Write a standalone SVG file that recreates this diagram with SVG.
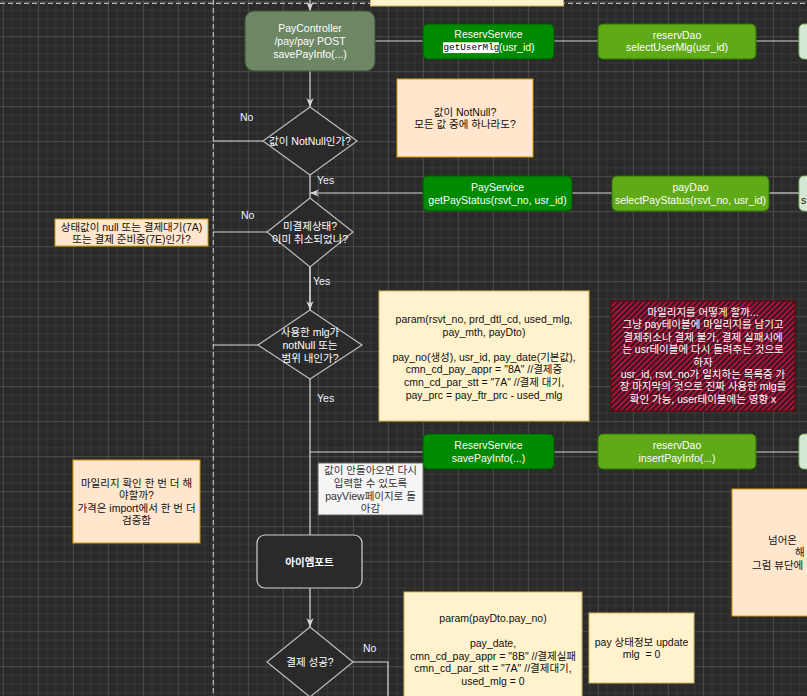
<svg xmlns="http://www.w3.org/2000/svg" width="807" height="696" viewBox="0 0 807 696">
<style>
text{font-family:"Liberation Sans","Noto Sans CJK KR",sans-serif;font-size:10.5px;text-anchor:middle;dominant-baseline:central}
.w{fill:#ffffff}
.d{fill:#111111}
.g{fill:#333333}
.lbl{fill:#f0f4ff;text-anchor:start}
.conn{stroke:#d6d6d6;stroke-width:1.2;fill:none}
.dash{stroke:#b8b8b8;stroke-width:1.2;stroke-dasharray:5 3;fill:none}
.svc{fill:#008a00;stroke:#005700}
.dao{fill:#60a917;stroke:#2d7600}
.lg{fill:#d5e8d4;stroke:#82b366}
.dia{fill:#2a2a2a;stroke:#bdbdbd;stroke-width:1.2}
.or{fill:#ffe6cc;stroke:#d79b00}
.ye{fill:#fff2cc;stroke:#d6b656}
</style>
<defs>
<pattern id="grid" x="2.8" y="1.2" width="35" height="35" patternUnits="userSpaceOnUse">
<rect width="35" height="35" fill="#2a2a2a"/>
<path d="M9.25 0V35M18 0V35M26.75 0V35M0 9.25H35M0 18H35M0 26.75H35" stroke="#373737" stroke-width="1"/>
<path d="M0.5 0V35M0 0.5H35" stroke="#4d4d4d" stroke-width="1"/>
</pattern>
<pattern id="hatch" width="4" height="4" patternUnits="userSpaceOnUse" patternTransform="rotate(45)">
<rect width="4" height="4" fill="#2e1a20"/>
<line x1="1" y1="0" x2="1" y2="4" stroke="#b0103a" stroke-width="2"/>
</pattern>
<marker id="arr" viewBox="0 0 10 10" refX="10" refY="5" markerWidth="9" markerHeight="9" markerUnits="userSpaceOnUse" orient="auto">
<path d="M0,1 L10,5 L0,9 L3,5 z" fill="#d6d6d6"/>
</marker>
</defs>
<rect width="807" height="696" fill="url(#grid)"/>
<g id="lanes">
<path class="dash" d="M0 3.3H807"/>
<path class="dash" d="M213.3 0V696"/>
</g>
<g id="topbox"><rect class="ye" x="370.5" y="-20" width="193" height="26"/></g>
<g id="connectors">
<path class="conn" d="M310 0V11" marker-end="url(#arr)"/>
<path class="conn" d="M375 41H423"/>
<path class="conn" d="M554 41H598"/>
<path class="conn" d="M756 41H799"/>
<path class="conn" d="M310 71V107" marker-end="url(#arr)"/>
<path class="conn" d="M263 141H213"/>
<path class="conn" d="M310 175V310" />
<path class="conn" d="M423 193H310" marker-end="url(#arr)"/>
<path class="conn" d="M572 193H612"/>
<path class="conn" d="M769 193H799"/>
<path class="conn" d="M267 232H213"/>
<path class="conn" d="M310 267V310" marker-end="url(#arr)"/>
<path class="conn" d="M258 345H213"/>
<path class="conn" d="M310 379V535"/>
<path class="conn" d="M310 452H423"/>
<path class="conn" d="M554 452H598"/>
<path class="conn" d="M756 452H799"/>
<path class="conn" d="M310 588V627" marker-end="url(#arr)"/>
<path class="conn" d="M353 662H388V696"/>
<text class="lbl" x="240" y="117">No</text>
<text class="lbl" x="317" y="180">Yes</text>
<text class="lbl" x="241" y="215">No</text>
<text class="lbl" x="313" y="281">Yes</text>
<text class="lbl" x="317" y="398">Yes</text>
<text class="lbl" x="363" y="648">No</text>
</g>
<g id="payController">
<rect x="245" y="11" width="130" height="60" rx="9" fill="#6d8764" stroke="#3a5431"/>
<text class="w" x="310" y="28.4">PayController</text>
<text class="w" x="310" y="41">/pay/pay POST</text>
<text class="w" x="310" y="53.6">savePayInfo(...)</text>
</g>
<g id="reservService1">
<rect class="svc" x="423" y="24" width="131" height="35" rx="5"/>
<text class="w" x="488.5" y="33.5">ReservService</text>
<rect x="443" y="42.3" width="56" height="10.8" fill="#ffffff"/>
<text x="443.5" y="47.3" style="font-family:'Liberation Mono',monospace;font-size:9.3px;text-anchor:start;fill:#000">getUserMlg</text>
<text class="w" x="499" y="47" style="text-anchor:start">(usr_id)</text>
</g>
<g id="reservDao1">
<rect class="dao" x="598" y="24" width="158" height="35" rx="5"/>
<text class="w" x="677" y="34.7">reservDao</text>
<text class="w" x="677" y="47.3">selectUserMlg(usr_id)</text>
</g>
<g id="lg1"><rect class="lg" x="799" y="24" width="40" height="35" rx="5"/></g>
<g id="decision1">
<polygon class="dia" points="310,107 357,141 310,175 263,141"/>
<text class="w" x="310" y="141">값이 NotNull인가?</text>
</g>
<g id="note1">
<rect class="or" x="397" y="79" width="136" height="78"/>
<text class="d" x="465" y="111.7">값이 NotNull?</text>
<text class="d" x="465" y="124.3">모든 값 중에 하나라도?</text>
</g>
<g id="payService">
<rect class="svc" x="423" y="176" width="149" height="35" rx="5"/>
<text class="w" x="497.5" y="187">PayService</text>
<text class="w" x="497.5" y="199.6">getPayStatus(rsvt_no, usr_id)</text>
</g>
<g id="payDao">
<rect class="dao" x="612" y="176" width="157" height="35" rx="5"/>
<text class="w" x="690.5" y="187">payDao</text>
<text class="w" x="690.5" y="199.6">selectPayStatus(rsvt_no, usr_id)</text>
</g>
<g id="lg2">
<rect class="lg" x="799" y="176" width="40" height="35" rx="5"/>
<text class="d" x="801" y="199.6" style="text-anchor:start">s</text>
</g>
<g id="decision2">
<polygon class="dia" points="310,198 353,232 310,267 267,232"/>
<text class="w" x="310" y="226">미결제상태?</text>
<text class="w" x="310" y="238.6">이미 취소되었나?</text>
</g>
<g id="label2">
<rect class="or" x="55" y="219" width="153" height="27"/>
<text class="d" x="131.5" y="226.6">상태값이 null 또는 결제대기(7A)</text>
<text class="d" x="131.5" y="239.2">또는 결제 준비중(7E)인가?</text>
</g>
<g id="decision3">
<polygon class="dia" points="310,310 362,345 310,379 258,345"/>
<text class="w" x="310" y="332.4">사용한 mlg가</text>
<text class="w" x="310" y="345">notNull 또는</text>
<text class="w" x="310" y="357.6">범위 내인가?</text>
</g>
<g id="param1">
<rect class="ye" x="379" y="291" width="210" height="130"/>
<text class="d" x="484" y="319">param(rsvt_no, prd_dtl_cd, used_mlg,</text>
<text class="d" x="484" y="331.6">pay_mth, payDto)</text>
<text class="d" x="484" y="356.8">pay_no(생성), usr_id, pay_date(기본값),</text>
<text class="d" x="484" y="369.4">cmn_cd_pay_appr = "8A" //결제중</text>
<text class="d" x="484" y="382">cmn_cd_par_stt = "7A" //결제 대기,</text>
<text class="d" x="484" y="394.6">pay_prc = pay_ftr_prc - used_mlg</text>
</g>
<g id="mileageNote">
<rect x="611" y="301" width="184" height="110" fill="url(#hatch)" stroke="#6f0000"/>
<text class="w" x="703" y="312">마일리지를 어떻게 할까...</text>
<text class="w" x="703" y="324.4">그냥 pay테이블에 마일리지를 남기고</text>
<text class="w" x="703" y="336.8">결제취소나 결제 불가, 결제 실패시에</text>
<text class="w" x="703" y="349.2">는 usr테이블에 다시 돌려주는 것으로</text>
<text class="w" x="703" y="361.6">하자</text>
<text class="w" x="703" y="374">usr_id, rsvt_no가 일치하는 목록중 가</text>
<text class="w" x="703" y="386.4">장 마지막의 것으로 진짜 사용한 mlg를</text>
<text class="w" x="703" y="398.8">확인 가능, user테이블에는 영향 x</text>
</g>
<g id="reservService2">
<rect class="svc" x="423" y="434" width="131" height="35" rx="5"/>
<text class="w" x="488.5" y="445">ReservService</text>
<text class="w" x="488.5" y="457.6">savePayInfo(...)</text>
</g>
<g id="reservDao2">
<rect class="dao" x="598" y="434" width="158" height="35" rx="5"/>
<text class="w" x="677" y="445">reservDao</text>
<text class="w" x="677" y="457.6">insertPayInfo(...)</text>
</g>
<g id="lg3"><rect class="lg" x="799" y="434" width="40" height="35" rx="5"/></g>
<g id="retryNote">
<rect x="318" y="463" width="105" height="52" fill="#f5f5f5" stroke="#666666"/>
<text class="g" x="370.5" y="470.3">값이 안돌아오면 다시</text>
<text class="g" x="370.5" y="482.9">입력할 수 있도록</text>
<text class="g" x="370.5" y="495.5">payView페이지로 돌</text>
<text class="g" x="370.5" y="508.1">아감</text>
</g>
<g id="leftNote">
<rect class="or" x="73" y="460" width="127" height="83"/>
<text class="d" x="136.5" y="482.6">마일리지 확인 한 번 더 해</text>
<text class="d" x="136.5" y="495.2">야할까?</text>
<text class="d" x="136.5" y="507.8">가격은 import에서 한 번 더</text>
<text class="d" x="136.5" y="520.4">검증함</text>
</g>
<g id="rightNote">
<rect class="or" x="732" y="489" width="120" height="127"/>
<text class="d" x="768" y="540" style="text-anchor:start">넘어온</text>
<text class="d" x="795" y="552.3" style="text-anchor:start">해</text>
<text class="d" x="752" y="564.6" style="text-anchor:start">그럼 뷰단에</text>
</g>
<g id="iamport">
<rect x="257" y="535" width="105" height="53" rx="8" fill="#2a2a2a" stroke="#d0d0d0" stroke-width="1.2"/>
<text class="w" x="309.5" y="561.5" style="font-weight:bold">아이엠포트</text>
</g>
<g id="decision4">
<polygon class="dia" points="310,627 353,662 310,697 267,662"/>
<text class="w" x="310" y="662">결제 성공?</text>
</g>
<g id="param2">
<rect class="ye" x="404" y="592" width="178" height="130"/>
<text class="d" x="493" y="618">param(payDto.pay_no)</text>
<text class="d" x="493" y="643.2">pay_date,</text>
<text class="d" x="493" y="655.8">cmn_cd_pay_appr = "8B" //결제실패</text>
<text class="d" x="493" y="668.4">cmn_cd_par_stt = "7A" //결제대기,</text>
<text class="d" x="493" y="681">used_mlg = 0</text>
</g>
<g id="payUpdate">
<rect class="ye" x="589" y="613" width="105" height="70"/>
<text class="d" x="641.5" y="641.7">pay 상태정보 update</text>
<text class="d" x="641.5" y="654.3" style="white-space:pre">mlg  = 0</text>
</g>
</svg>
